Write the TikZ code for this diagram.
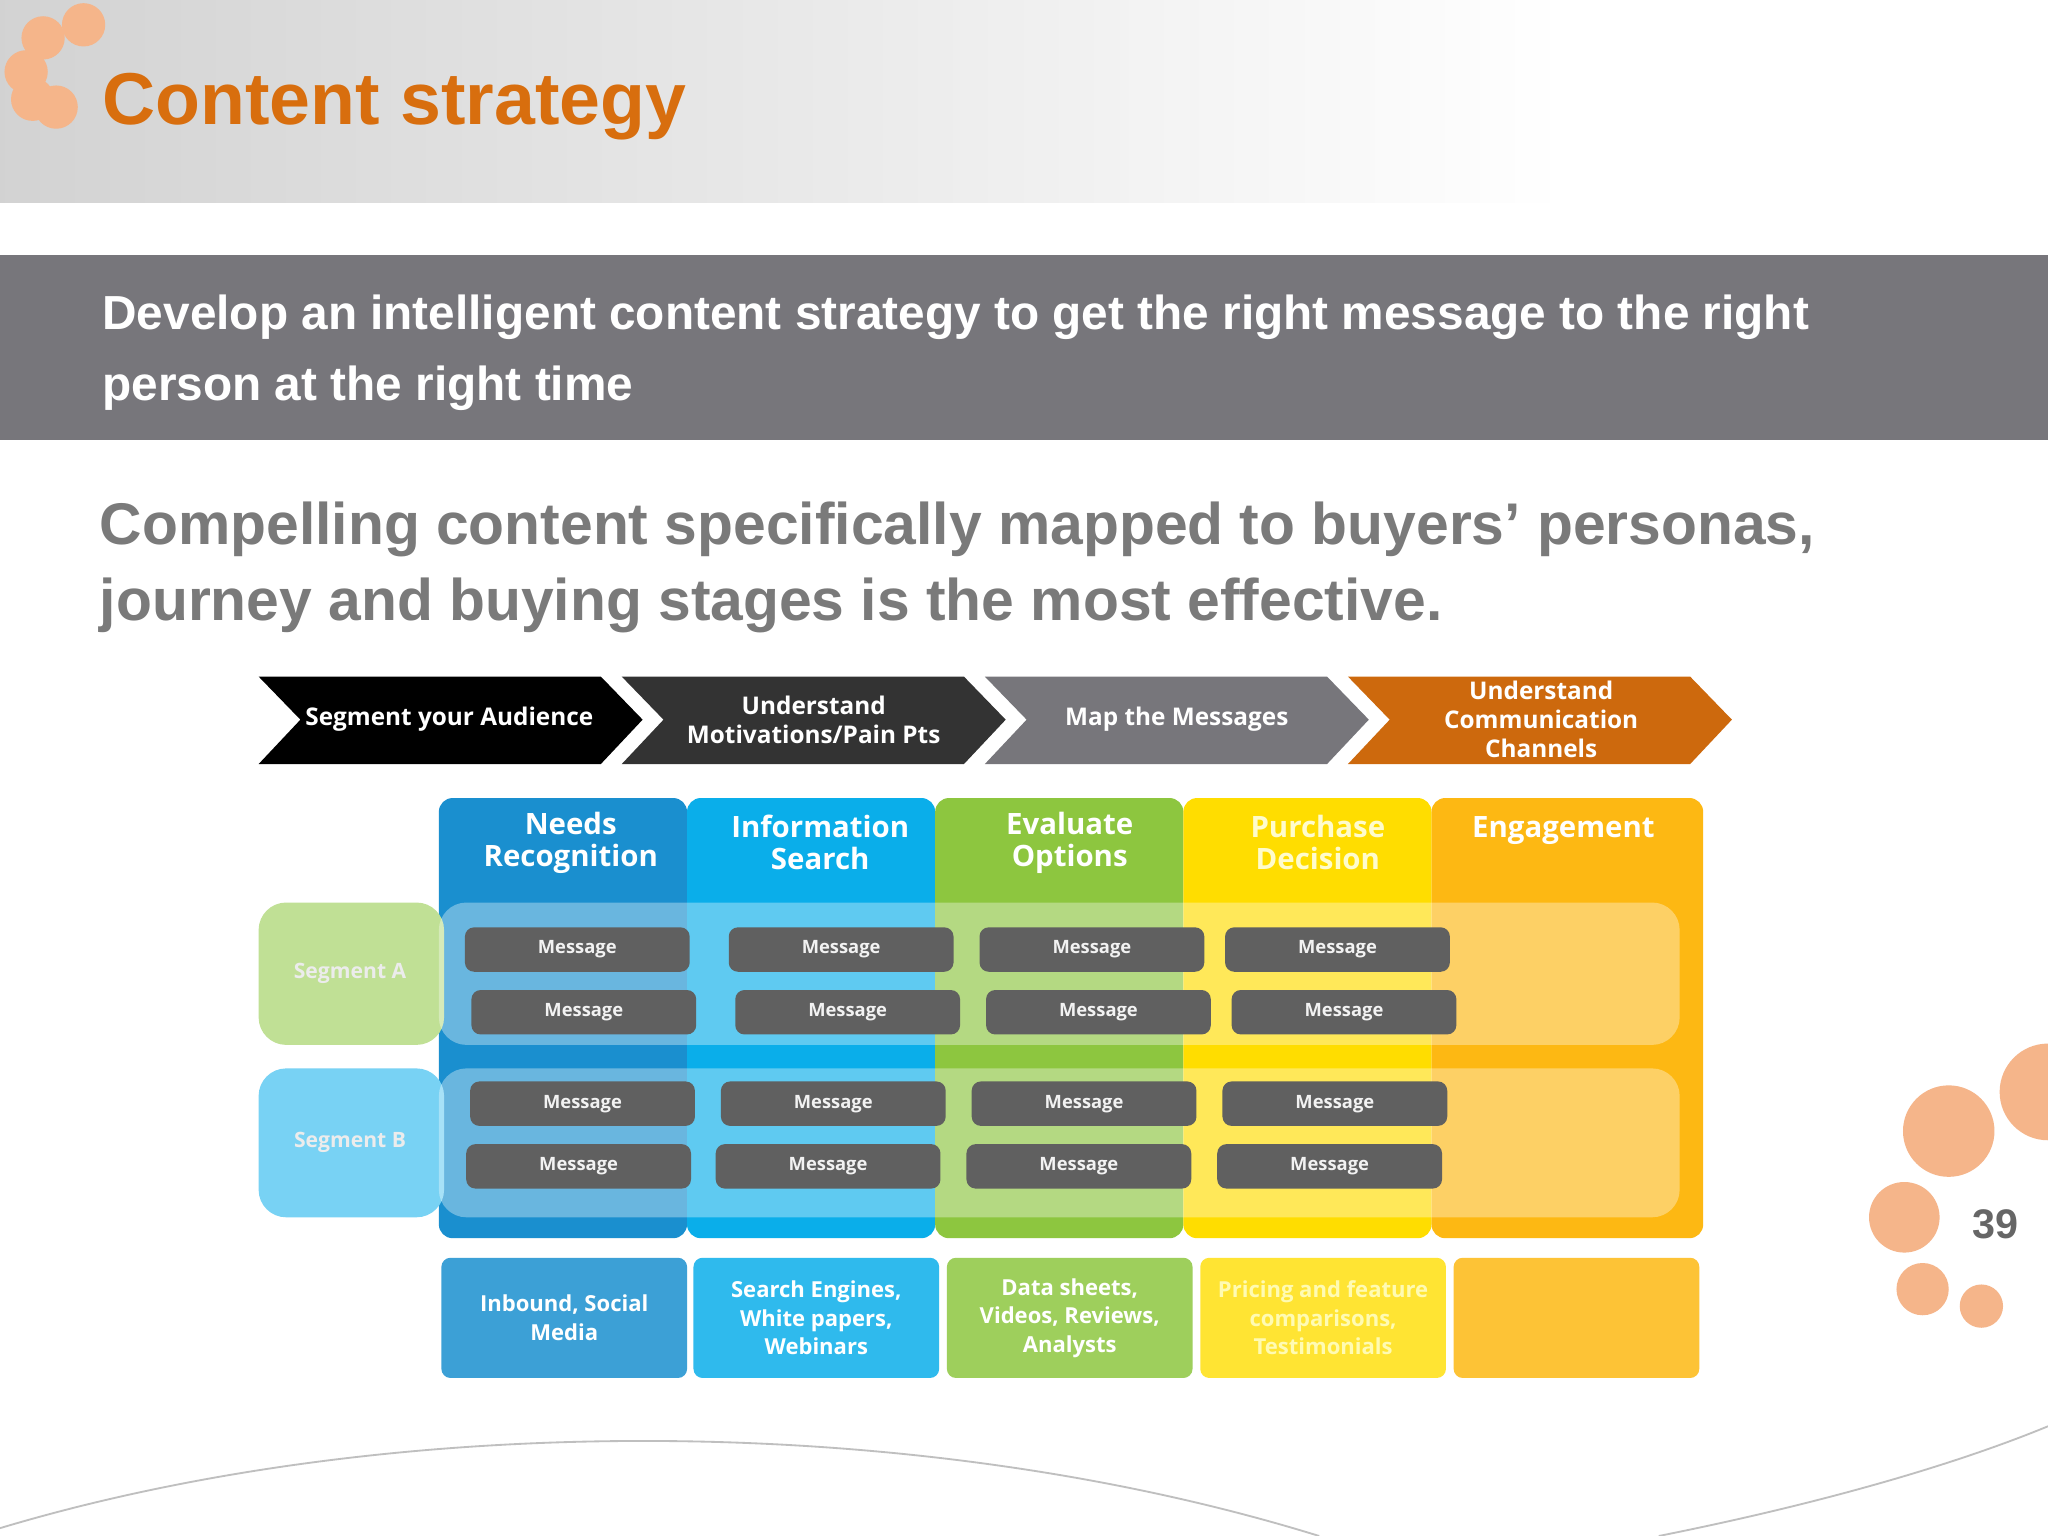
\documentclass[tikz,border=0pt]{standalone}
\usepackage{fontspec}
\setmainfont{Liberation Sans}
\newfontfamily\dfont{Open Sans}
\usetikzlibrary{shapes.symbols}
\definecolor{org}{HTML}{D86E0E}
\definecolor{bandg}{HTML}{77767B}
\definecolor{subg}{HTML}{7A7A7A}
\definecolor{cA}{HTML}{1A8FCF}
\definecolor{cB}{HTML}{0AAEEA}
\definecolor{cC}{HTML}{8DC63F}
\definecolor{cD}{HTML}{FFDD00}
\definecolor{cE}{HTML}{FDB813}
\definecolor{dot}{HTML}{F5B58A}
\tikzset{
  chev/.style={draw=none,fill=#1,text=white,font=\dfont\fontsize{5.3pt}{6.3pt}\selectfont\bfseries,align=center},
  colbox/.style={fill=#1,draw=none,rounded corners=3pt},
  hdr/.style={text=white,font=\dfont\fontsize{6.4pt}{7pt}\selectfont\bfseries,align=center},
  msg/.style={fill=gray!75!black,draw=none,rounded corners=2pt,minimum width=1.72cm,minimum height=0.34cm,text=white!90!gray,font=\dfont\fontsize{4pt}{5pt}\selectfont\bfseries,inner sep=0pt},
  bot/.style={fill=#1,rounded corners=2pt,minimum width=1.88cm,minimum height=0.92cm,text=white,font=\dfont\fontsize{4.8pt}{6.2pt}\selectfont\bfseries,align=center,inner sep=0pt},
  seg/.style={text=white!85!gray,font=\dfont\fontsize{4.6pt}{5pt}\selectfont\bfseries},
  circ/.style={fill=dot,draw=none,circle}
}
\begin{document}
\begin{tikzpicture}[x=0.01cm,y=-0.01cm]
\useasboundingbox (0,0) rectangle (1568,1176);
\fill[white] (0,0) rectangle (1568,1176);
\shade[left color=gray!35,right color=white] (0,0) rectangle (1200,155);
\fill[white] (1200,0) rectangle (1568,155);
% dots
\node[circ,minimum size=0.3cm] (d1) at (64,19) {};
\node[circ,minimum size=0.26cm] (d2) at (33,29) {};
\node[circ,minimum size=0.2cm] (d3) at (20,55) {};
\node[circ,minimum size=0.14cm] (d4) at (25,76) {};
\node[circ,minimum size=0.12cm] (d5) at (43,82) {};
\node[anchor=west,text=org,font=\fontsize{16pt}{18pt}\selectfont\bfseries] (title) at (66,82) {Content strategy};
% band
\fill[bandg] (0,195) rectangle (1568,337);
\node[anchor=north west,text=white,font=\fontsize{10.4pt}{15.6pt}\selectfont\bfseries,align=left] (band) at (66,213) {Develop an intelligent content strategy to get the right message to the right\\person at the right time};
\node[anchor=north west,text=subg,font=\fontsize{12.8pt}{16.6pt}\selectfont\bfseries,align=left] (sub) at (64,372) {Compelling content specifically mapped to buyers’ personas,\\journey and buying stages is the most effective.};
% chevrons
\fill[black] (198,518)--(460,518)--(492,551)--(460,585)--(198,585)--(230,551)--cycle;
\fill[gray!40!black] (476,518)--(738,518)--(770,551)--(738,585)--(476,585)--(508,551)--cycle;
\fill[bandg] (754,518)--(1016,518)--(1048,551)--(1016,585)--(754,585)--(786,551)--cycle;
\fill[org!95!black] (1032,518)--(1294,518)--(1326,551)--(1294,585)--(1032,585)--(1064,551)--cycle;
\node[chev=none] (ch1) at (344,551) {Segment your Audience};
\node[chev=none] (ch2) at (623,551) {Understand\\Motivations/Pain Pts};
\node[chev=none] (ch3) at (901,551) {Map the Messages};
\node[chev=none] (ch4) at (1180,551) {Understand\\Communication\\Channels};
% columns
\fill[colbox=cA] (336,611) rectangle (526,948);
\fill[colbox=cB] (526,611) rectangle (716,948);
\fill[colbox=cC] (716,611) rectangle (906,948);
\fill[colbox=cD] (906,611) rectangle (1096,948);
\fill[colbox=cE] (1096,611) rectangle (1304,948);
\node[hdr] (h1) at (437,645) {Needs\\Recognition};
\node[hdr] (h2) at (628,645) {Information\\Search};
\node[hdr] (h3) at (819,645) {Evaluate\\Options};
\node[hdr,text=white!80!yellow] (h4) at (1009,645) {Purchase\\Decision};
\node[hdr] (h5) at (1197,636) {Engagement};
% segments
\fill[cC!55!white,rounded corners=6pt] (198,691) rectangle (340,800);
\fill[white,opacity=0.35,rounded corners=6pt] (336,691) rectangle (1286,800);
\fill[cB!55!white,rounded corners=6pt] (198,818) rectangle (340,932);
\fill[white,opacity=0.35,rounded corners=6pt] (336,818) rectangle (1286,932);
\node[seg] (sa) at (268,745) {Segment A};
\node[seg] (sb) at (268,875) {Segment B};
% messages
\foreach \x/\y in {442/727,644/727,836/727,1024/727,447/775,649/775,841/775,1029/775,446/845,638/845,830/845,1022/845,443/893,634/893,826/893,1018/893}
  \node[msg] (m\x\y) at (\x,\y) {Message};
% bottom
\node[bot=cA!85!white] (b1) at (432,1009) {Inbound, Social\\Media};
\node[bot=cB!85!white] (b2) at (625,1009) {Search Engines,\\White papers,\\Webinars};
\node[bot=cC!85!white] (b3) at (819,1009) {Data sheets,\\Videos, Reviews,\\Analysts};
\node[bot=cD!80!white,text=white!70!yellow] (b4) at (1013,1009) {Pricing and feature\\comparisons,\\Testimonials};
\node[bot=cE!85!white] (b5) at (1207,1009) {};
% right decor
\node[circ,minimum size=0.7cm] (r1) at (1492,866) {};
\node[circ,minimum size=0.74cm] (r2) at (1568,836) {};
\node[circ,minimum size=0.54cm] (r3) at (1458,932) {};
\node[circ,minimum size=0.4cm] (r4) at (1472,987) {};
\node[circ,minimum size=0.32cm] (r5) at (1517,1000) {};
\node[text=gray!80!black,font=\fontsize{9pt}{10pt}\selectfont\bfseries] (pg) at (1528,937) {39};
% bottom curves
\draw[gray!50,line width=0.4pt] (0,1170) .. controls (300,1080) and (700,1080) .. (1010,1176);
\draw[gray!50,line width=0.4pt] (1270,1176) .. controls (1400,1150) and (1500,1120) .. (1568,1092);
\end{tikzpicture}
\end{document}
